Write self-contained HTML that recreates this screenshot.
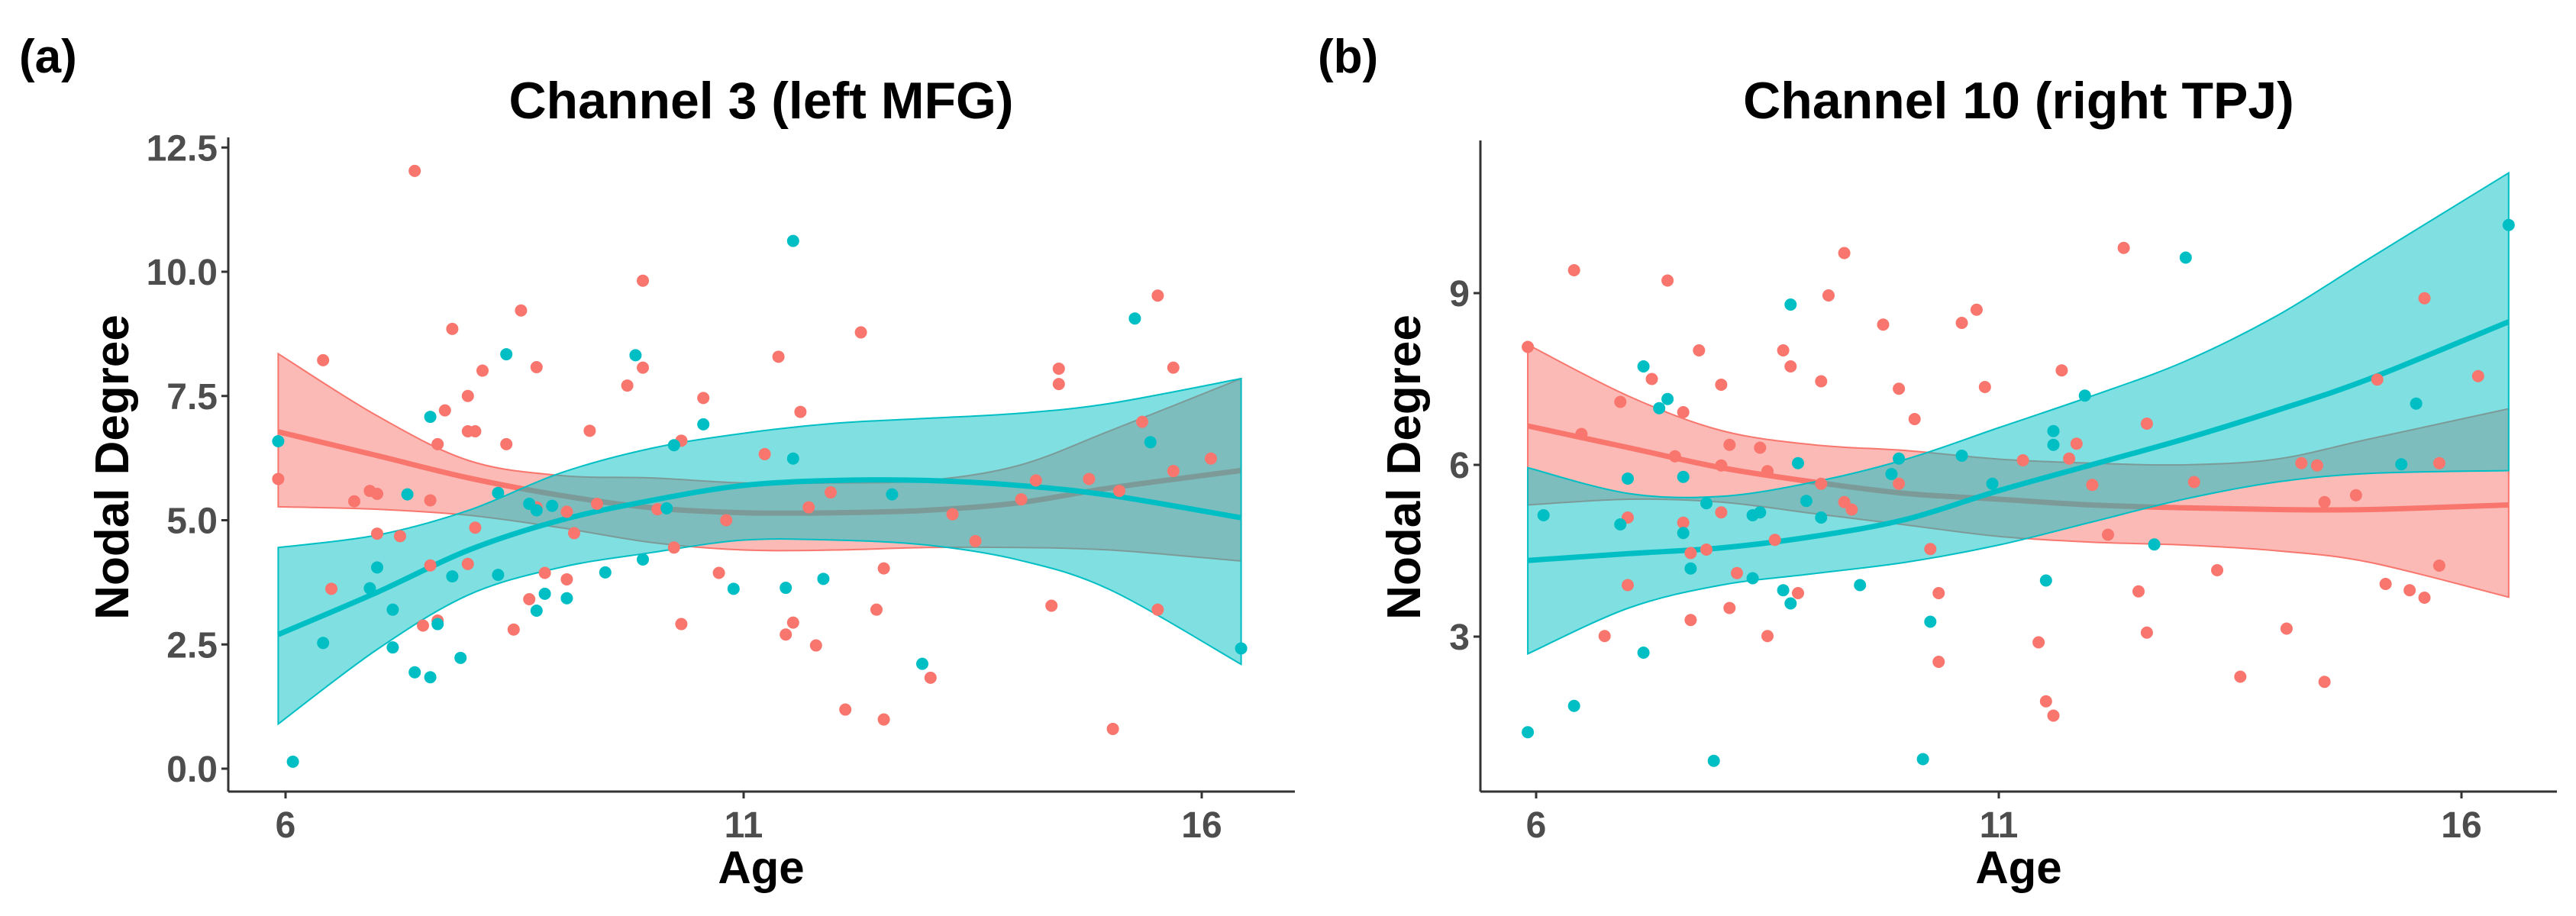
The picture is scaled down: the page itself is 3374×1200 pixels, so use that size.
<!DOCTYPE html>
<html><head><meta charset="utf-8"><style>
html,body{margin:0;padding:0;background:#fff;}
svg{display:block;font-family:"Liberation Sans",Arial,sans-serif;}
</style></head><body>
<svg id="chart" width="3374" height="1200" viewBox="0 0 3374 1200" xmlns="http://www.w3.org/2000/svg"></svg>
<script>
// ---------- Panel (a) data ----------
const aRedAge=[7.41,5.92,6.41,6.50,6.75,6.92,7.00,7.00,7.25,7.58,7.58,7.66,7.50,7.66,7.74,7.82,7.99,7.99,8.07,7.99,8.07,8.15,8.41,8.49,8.57,8.66,8.74,8.74,8.83,9.07,9.07,9.15,9.32,9.40,9.73,9.90,9.90,10.06,10.24,10.32,10.32,10.56,10.73,10.81,11.23,11.38,11.46,11.54,11.62,11.71,11.79,11.95,12.11,12.28,12.45,12.53,12.53,13.04,13.28,13.53,14.03,14.19,14.36,14.44,14.44,14.77,15.03,15.10,15.35,15.52,15.52,15.69,15.69,16.10];
const aRedVal=[12.03,5.83,8.22,3.62,5.38,5.59,5.53,4.73,4.68,5.40,4.09,6.53,2.88,2.98,7.21,8.85,7.50,6.79,6.79,4.12,4.85,8.01,6.53,2.80,9.22,3.41,8.08,5.26,3.94,5.17,3.81,4.74,6.80,5.33,7.71,9.82,8.07,5.22,4.45,6.60,2.91,7.46,3.94,5.00,6.33,8.29,2.70,2.94,7.18,5.26,2.48,5.56,1.19,8.78,3.20,4.03,0.99,1.83,5.12,4.58,5.42,5.80,3.28,8.05,7.74,5.83,0.80,5.59,6.98,9.52,3.20,8.07,5.99,6.24];
const aTealAge=[5.92,6.08,6.41,6.92,7.00,7.17,7.17,7.33,7.41,7.58,7.58,7.66,7.82,7.91,8.32,8.32,8.41,8.66,8.74,8.74,8.83,8.91,9.07,9.49,9.82,9.90,10.16,10.24,10.56,10.89,11.46,11.54,11.54,11.87,12.62,12.95,15.27,15.44,16.43];
const aTealVal=[6.59,0.14,2.53,3.63,4.05,3.20,2.44,5.52,1.94,7.08,1.84,2.91,3.87,2.23,5.55,3.90,8.34,5.33,5.20,3.18,3.52,5.29,3.43,3.95,8.32,4.21,5.24,6.51,6.93,3.62,3.64,10.62,6.24,3.82,5.52,2.11,9.06,6.57,2.42];
const aFitAge=[5.92,7,8,9,10,11,12,13,14,15,16.43];
const aRedFit=[6.78,6.3,5.85,5.5,5.25,5.15,5.15,5.2,5.35,5.65,6.0];
const aRedHi=[8.35,7.1,6.2,5.9,5.85,5.75,5.75,5.8,6.1,6.8,7.85];
const aRedLo=[5.27,5.22,5.1,4.85,4.55,4.4,4.4,4.45,4.45,4.4,4.18];
const aTealFit=[2.7,3.55,4.4,5.0,5.4,5.7,5.8,5.8,5.7,5.5,5.05];
const aTealHi=[4.45,4.7,5.2,5.95,6.45,6.75,6.95,7.05,7.15,7.35,7.85];
const aTealLo=[0.9,2.4,3.5,4.05,4.35,4.6,4.6,4.5,4.2,3.6,2.1];
const aYTicks=[0,2.5,5,7.5,10,12.5];
const aYLabels=["0.0","2.5","5.0","7.5","10.0","12.5"];
const xTicks=[6,11,16];
// ---------- Panel (b) data ----------
const bRedAge=[5.91,6.41,6.49,6.74,6.91,6.99,6.99,7.25,7.42,7.50,7.59,7.59,7.67,7.67,7.76,7.84,8.00,8.00,8.00,8.09,8.09,8.17,8.42,8.50,8.50,8.58,8.67,8.75,8.83,9.08,9.08,9.16,9.33,9.33,9.41,9.75,9.92,9.92,10.09,10.26,10.35,10.35,10.60,10.76,10.85,11.26,11.43,11.51,11.59,11.68,11.76,11.84,12.01,12.18,12.35,12.51,12.60,12.60,13.11,13.36,13.61,14.11,14.27,14.44,14.52,14.52,14.86,15.09,15.18,15.44,15.60,15.60,15.76,15.76,16.18];
const bRedVal=[8.06,9.40,6.54,3.01,7.10,5.08,3.90,7.50,9.22,6.15,6.92,4.99,4.46,3.29,8.00,4.52,7.40,5.99,5.17,6.35,3.50,4.11,6.30,5.89,3.01,4.69,8.00,7.72,3.76,5.67,7.46,8.96,9.70,5.35,5.22,8.45,7.33,5.67,6.80,4.53,3.76,2.56,8.48,8.71,7.36,6.08,2.90,1.87,1.62,7.65,6.11,6.37,5.65,4.78,9.79,3.79,6.72,3.07,5.70,4.16,2.30,3.14,6.03,5.99,5.35,2.21,5.47,7.49,3.92,3.81,8.91,3.68,6.03,4.24,7.55];
const bTealAge=[5.91,6.08,6.41,6.91,6.99,7.16,7.16,7.33,7.42,7.59,7.59,7.67,7.84,7.92,8.34,8.42,8.34,8.67,8.75,8.75,8.83,8.92,9.08,9.50,9.84,9.92,10.18,10.26,10.60,10.93,11.51,11.59,11.59,11.93,12.68,13.02,15.35,15.51,16.51];
const bTealVal=[1.33,5.12,1.79,4.96,5.76,7.72,2.72,6.99,7.15,5.79,4.81,4.19,5.33,0.83,5.12,5.17,4.02,3.81,8.80,3.58,6.03,5.37,5.08,3.90,5.84,6.11,0.86,3.26,6.16,5.67,3.98,6.59,6.35,7.21,4.61,9.62,6.01,7.07,10.19];
const bFitAge=[5.91,7,8,9,10,11,12,13,14,15,16.51];
const bRedFit=[6.68,6.3,5.95,5.7,5.5,5.4,5.3,5.25,5.22,5.22,5.3];
const bRedHi=[8.1,7.2,6.6,6.35,6.25,6.1,6.03,6.0,6.1,6.45,6.98];
const bRedLo=[5.3,5.4,5.35,5.15,4.95,4.75,4.65,4.6,4.5,4.3,3.69];
const bTealFit=[4.33,4.45,4.55,4.75,5.05,5.55,6.0,6.45,6.95,7.5,8.5];
const bTealHi=[5.95,5.5,5.45,5.7,6.1,6.65,7.2,7.8,8.6,9.6,11.1];
const bTealLo=[2.7,3.5,3.9,4.1,4.3,4.6,5.0,5.4,5.7,5.85,5.9];
const bYTicks=[3,6,9];
const bYLabels=["3","6","9"];

const NS="http://www.w3.org/2000/svg";
const svg=document.getElementById('chart');
function mk(tag,attrs,parent){const e=document.createElementNS(NS,tag);for(const k in attrs)e.setAttribute(k,attrs[k]);(parent||svg).appendChild(e);return e;}
const RED="#F8766D",TEAL="#00BFC4";

function smooth(pts){
  let d="M"+pts[0][0]+","+pts[0][1];
  for(let i=0;i<pts.length-1;i++){
    const p0=pts[Math.max(0,i-1)],p1=pts[i],p2=pts[i+1],p3=pts[Math.min(pts.length-1,i+2)];
    const c1=[p1[0]+(p2[0]-p0[0])/6,p1[1]+(p2[1]-p0[1])/6];
    const c2=[p2[0]-(p3[0]-p1[0])/6,p2[1]-(p3[1]-p1[1])/6];
    d+=" C"+c1[0]+","+c1[1]+" "+c2[0]+","+c2[1]+" "+p2[0]+","+p2[1];
  }
  return d;
}

function panel(cfg){
  const g=mk('g',{});
  
  
  const sx=v=>cfg.x6+(v-6)*cfg.pxPerYear;
  const sy=v=>cfg.y0-(v-cfg.v0)*cfg.pxPerUnit;
  function ribbon(age,hi,lo,color,name){
    const up=age.map((a,i)=>[sx(a),sy(hi[i])]);
    const dn=age.map((a,i)=>[sx(a),sy(lo[i])]).reverse();
    const d=smooth(up)+" L"+dn[0][0]+","+dn[0][1]+smooth(dn).replace(/^M[^C]*/,' ')+" Z";
    const p=mk('path',{d:d,fill:color,'fill-opacity':0.5,stroke:color,'stroke-width':2},g);
    
    
  }
  function pts(age,val,color,name){
    age.forEach((a,i)=>{
      const c=mk('circle',{cx:sx(a),cy:sy(val[i]),r:8,fill:color},g);
      
      
    });
  }
  function line(age,v,color,name){
    const p=mk('path',{d:smooth(age.map((a,i)=>[sx(a),sy(v[i])])),fill:'none',stroke:color,'stroke-width':7},g);
    
    
  }
  ribbon(cfg.fitAge,cfg.redHi,cfg.redLo,RED,'red-confidence-band');
  line(cfg.fitAge,cfg.redFit,RED,'red-fit-line');
  ribbon(cfg.fitAge,cfg.tealHi,cfg.tealLo,TEAL,'teal-confidence-band');
  line(cfg.fitAge,cfg.tealFit,TEAL,'teal-fit-line');
  pts(cfg.redAge,cfg.redVal,RED,'red-point');
  pts(cfg.tealAge,cfg.tealVal,TEAL,'teal-point');
  // axes
  const ya=mk('line',{x1:cfg.axX,y1:cfg.axTop,x2:cfg.axX,y2:cfg.axY,stroke:'#333','stroke-width':3},g);
  
  const xa=mk('line',{x1:cfg.axX,y1:cfg.axY,x2:cfg.axRight,y2:cfg.axY,stroke:'#333','stroke-width':3},g);
  
  cfg.yTicks.forEach((t,i)=>{
    mk('line',{x1:cfg.axX-9,x2:cfg.axX,y1:sy(t),y2:sy(t),stroke:'#333','stroke-width':3},g);
    const tx=mk('text',{x:cfg.axX-14,y:sy(t)+17,'text-anchor':'end','font-size':48,'font-weight':'bold',fill:'#4d4d4d'},g);
    tx.textContent=cfg.yLabels[i];
    
    
  });
  xTicks.forEach(t=>{
    mk('line',{x1:sx(t),x2:sx(t),y1:cfg.axY,y2:cfg.axY+9,stroke:'#333','stroke-width':3},g);
    const tx=mk('text',{x:sx(t),y:cfg.axY+60,'text-anchor':'middle','font-size':48,'font-weight':'bold',fill:'#4d4d4d'},g);
    tx.textContent=String(t);
    
    
  });
  const xt=mk('text',{x:cfg.titleX,y:1157,'text-anchor':'middle','font-size':60,'font-weight':'bold',fill:'#000'},g);
  xt.textContent='Age';
  
  const yt=mk('text',{x:0,y:0,'text-anchor':'middle','font-size':62,'font-weight':'bold',fill:'#000',transform:`translate(${cfg.yTitleX},612) rotate(-90)`},g);
  yt.textContent='Nodal Degree';
  
  const ti=mk('text',{x:cfg.titleX,y:155,'text-anchor':'middle','font-size':68,'font-weight':'bold',fill:'#000'},g);
  ti.textContent=cfg.title;
  
  const lb=mk('text',{x:cfg.labelX,y:95,'font-size':62,'font-weight':'bold',fill:'#000'},g);
  lb.textContent=cfg.label;
  
}

panel({id:'channel-3',x6:374,pxPerYear:120,y0:1007,v0:0,pxPerUnit:65.1,axX:299,axY:1037,axTop:180,axRight:1696,
  yTicks:aYTicks,yLabels:aYLabels,titleX:997,yTitleX:168,labelX:25,title:'Channel 3 (left MFG)',label:'(a)',
  redAge:aRedAge,redVal:aRedVal,tealAge:aTealAge,tealVal:aTealVal,fitAge:aFitAge,
  redFit:aRedFit,redHi:aRedHi,redLo:aRedLo,tealFit:aTealFit,tealHi:aTealHi,tealLo:aTealLo});
panel({id:'channel-10',x6:2012,pxPerYear:121.2,y0:834,v0:3,pxPerUnit:75,axX:1939,axY:1037,axTop:184,axRight:3349,
  yTicks:bYTicks,yLabels:bYLabels,titleX:2644,yTitleX:1860,labelX:1726,title:'Channel 10 (right TPJ)',label:'(b)',
  redAge:bRedAge,redVal:bRedVal,tealAge:bTealAge,tealVal:bTealVal,fitAge:bFitAge,
  redFit:bRedFit,redHi:bRedHi,redLo:bRedLo,tealFit:bTealFit,tealHi:bTealHi,tealLo:bTealLo});
</script>
</body></html>
